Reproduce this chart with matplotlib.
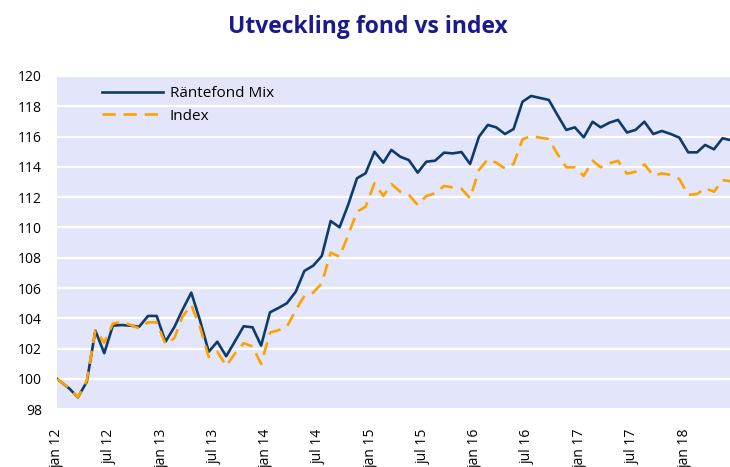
import pandas as pd
import matplotlib
matplotlib.use("Agg")
import matplotlib.pyplot as plt
import matplotlib.dates as mdates
from matplotlib.ticker import MultipleLocator, FuncFormatter

plt.rcParams['font.family'] = ['Open Sans', 'DejaVu Sans']

# Startdag (= 100) och därefter ett värde per månad
startdag = pd.DatetimeIndex(["2012-01-01"])
manader = pd.date_range("2012-02-13", periods=77, freq=pd.DateOffset(months=1))
datum = startdag.append(manader)

rantefond_mix = [
    100.0, 99.35, 98.79, 99.82, 103.19, 101.70, 103.52, 103.56, 103.52, 103.45,
    104.16, 104.16, 102.46, 103.43, 104.55, 105.70, 103.90, 101.80, 102.46, 101.50,
    102.50, 103.48, 103.41, 102.20, 104.40, 104.70, 105.00, 105.76, 107.13, 107.48,
    108.12, 110.43, 110.01, 111.49, 113.25, 113.58, 115.00, 114.28, 115.12, 114.67,
    114.45, 113.62, 114.34, 114.41, 114.94, 114.89, 114.98, 114.19, 115.99, 116.77,
    116.61, 116.17, 116.50, 118.30, 118.68, 118.55, 118.42, 117.43, 116.44, 116.61,
    115.95, 116.98, 116.61, 116.92, 117.10, 116.27, 116.44, 116.98, 116.17, 116.37,
    116.17, 115.93, 114.96, 114.96, 115.45, 115.16, 115.89, 115.75,
]
index_serie = [
    100.0, 99.35, 98.80, 99.90, 103.22, 102.40, 103.65, 103.78, 103.56, 103.34,
    103.74, 103.74, 102.30, 102.70, 104.10, 104.88, 103.45, 101.45, 101.80, 100.86,
    101.69, 102.36, 102.15, 100.99, 103.06, 103.23, 103.45, 104.55, 105.48, 105.70,
    106.32, 108.34, 108.07, 109.50, 111.04, 111.37, 112.92, 112.08, 112.87, 112.36,
    112.15, 111.49, 112.08, 112.26, 112.74, 112.65, 112.56, 111.93, 113.80, 114.50,
    114.28, 113.90, 114.20, 115.82, 116.04, 115.93, 115.84, 114.85, 113.97, 113.97,
    113.40, 114.41, 113.97, 114.24, 114.40, 113.55, 113.68, 114.17, 113.42, 113.57,
    113.47, 113.20, 112.15, 112.21, 112.59, 112.36, 113.13, 113.05,
]

serier = ["Räntefond Mix", "Index"]
manadsnamn = ["jan", "feb", "mar", "apr", "maj", "jun",
              "jul", "aug", "sep", "okt", "nov", "dec"]

fig = plt.figure(figsize=(7.3, 4.67), dpi=100)
ax = fig.add_axes([0.0785, 0.1236, 0.9215, 0.7137])
ax.set_facecolor("#E3E5FA")

ax.plot(datum, rantefond_mix, color="#0E3B6C", lw=1.9, label=serier[0])
ax.plot(datum, index_serie, color="#FFA200", lw=1.9, dashes=(5, 3), label=serier[1])

ax.set_ylim(98, 120)
ax.set_xlim(pd.Timestamp("2012-01-01"), pd.Timestamp("2018-06-08"))
ax.yaxis.set_major_locator(MultipleLocator(2))
ax.xaxis.set_major_locator(mdates.MonthLocator(bymonth=[1, 7]))
ax.xaxis.set_major_formatter(FuncFormatter(
    lambda x, pos: "%s %s" % (manadsnamn[mdates.num2date(x).month - 1],
                              mdates.num2date(x).strftime("%y"))))

ax.yaxis.grid(True, color="white", lw=1.6)
ax.set_axisbelow(True)
for s in ax.spines.values():
    s.set_visible(False)

ax.tick_params(axis="both", length=0, labelsize=10, colors="black")
ax.tick_params(axis="y", pad=11)
ax.tick_params(axis="x", pad=14)
for lbl in ax.get_xticklabels():
    lbl.set_rotation(90)

ax.legend(loc="upper left", bbox_to_anchor=(0.066, 0.97), frameon=False,
          fontsize=11, handlelength=4.0, handletextpad=0.45, labelspacing=0.5,
          borderpad=0, borderaxespad=0)

fig.text(0.5045, 0.9287, "Utveckling fond vs index", ha="center", va="baseline",
         fontsize=16.5, fontweight="bold", color="#1A1A8C")

fig.savefig("out.png", dpi=100)
